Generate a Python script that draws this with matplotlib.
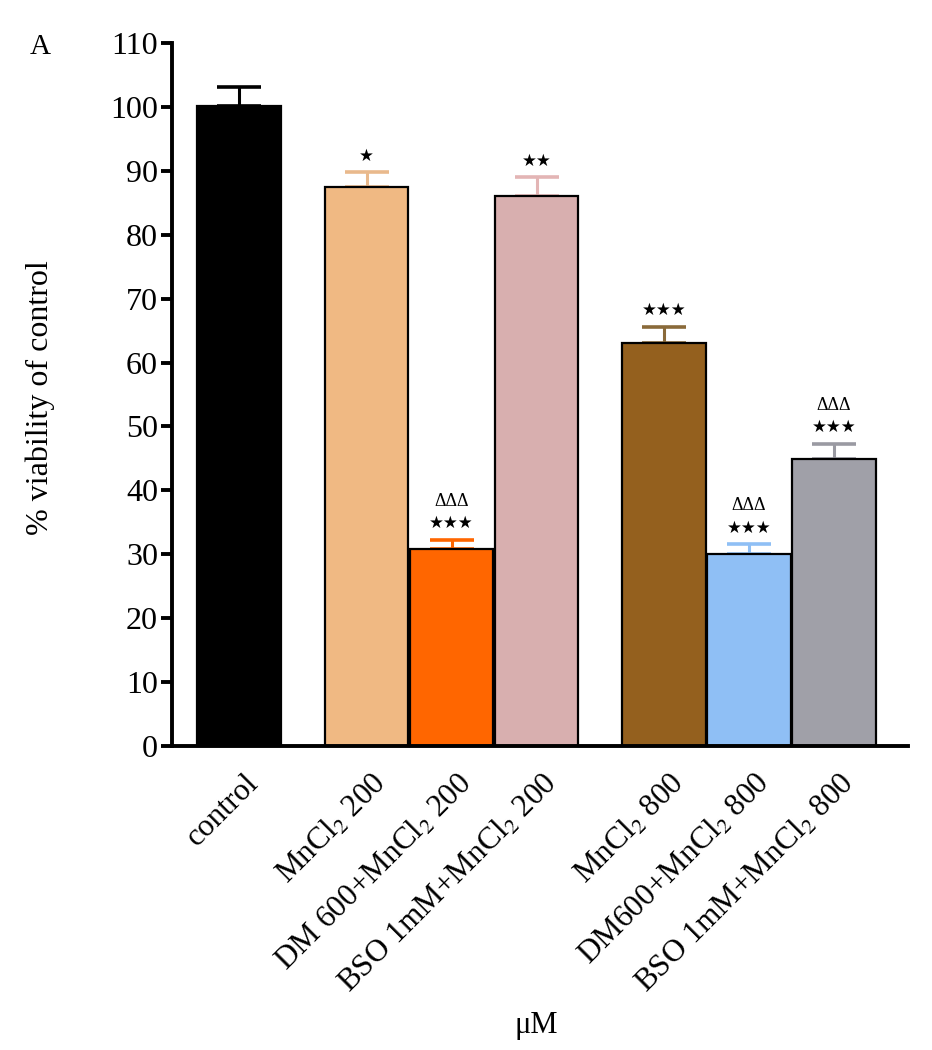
import numpy as np
import matplotlib
matplotlib.use("Agg")
import matplotlib.pyplot as plt
from matplotlib.transforms import ScaledTranslation

plt.rcParams['font.family'] = ['Liberation Serif', 'DejaVu Sans']
plt.rcParams['mathtext.fontset'] = 'stix'

# data
labels = ["control", "MnCl$_2$ 200", "DM 600+MnCl$_2$ 200", "BSO 1mM+MnCl$_2$ 200",
          "MnCl$_2$ 800", "DM600+MnCl$_2$ 800", "BSO 1mM+MnCl$_2$ 800"]
means = [100.2, 87.5, 30.8, 86.1, 63.1, 30.0, 44.9]
errs = [3.0, 2.3, 1.5, 2.9, 2.5, 1.6, 2.4]
stars = [0, 1, 3, 2, 3, 3, 3]
deltas = [0, 0, 3, 0, 0, 3, 3]
colors = ["#000000", "#F0B983", "#FF6600", "#D8AFAF", "#94601E", "#8FBFF5", "#A0A0A8"]
err_colors = ["#000000", "#E9B98C", "#FF6600", "#E3B5B5", "#8A6A3A", "#8FBFF5", "#9A9AA2"]
pos = [0, 1.5, 2.5, 3.5, 5, 6, 7]

fig = plt.figure(figsize=(9.32, 10.5), dpi=100)
ax = fig.add_axes([0.1845, 0.2895, 0.7897, 0.6695])

ax.bar(pos, means, width=0.98, color=colors, edgecolor="black", linewidth=1.6, zorder=2)
for i in range(len(pos)):
    ax.errorbar(pos[i], means[i], yerr=[[0], [errs[i]]], fmt="none",
                ecolor=err_colors[i], elinewidth=2.2, capsize=16, capthick=2.6, zorder=1)
    top = means[i] + errs[i]
    if stars[i]:
        ax.text(pos[i], top + 2.6, "\u2605" * stars[i], ha="center", va="center",
                fontsize=12, family="DejaVu Sans", color="black")
    if deltas[i]:
        ax.text(pos[i], top + 6.0, "\u0394" * deltas[i], ha="center", va="center",
                fontsize=13, color="black")

ax.set_ylim(0, 110)
ax.set_xlim(-0.79, 7.87)
ax.set_yticks(range(0, 111, 10))
ax.tick_params(axis="y", length=8, width=2.8, labelsize=23, pad=2)
ax.tick_params(axis="x", length=0, labelsize=22.5, pad=16)
ax.set_xticks(pos)
ax.set_xticklabels(labels, rotation=45, ha="right", rotation_mode="anchor")
shift = ScaledTranslation(5 / 100, 0, fig.dpi_scale_trans)
for lab in ax.get_xticklabels():
    lab.set_transform(lab.get_transform() + shift)

for s in ["top", "right"]:
    ax.spines[s].set_visible(False)
for s in ["left", "bottom"]:
    ax.spines[s].set_linewidth(2.8)

fig.text(40 / 932, 1 - 398 / 1050, "% viability of control", rotation=90,
         ha="center", va="center", fontsize=23)
fig.text(536 / 932, 1 - 1025 / 1050, "\u03bcM", ha="center", va="center", fontsize=22)
fig.text(40 / 932, 1 - 47 / 1050, "A", ha="center", va="center", fontsize=21)

fig.savefig("out.png", dpi=100)
